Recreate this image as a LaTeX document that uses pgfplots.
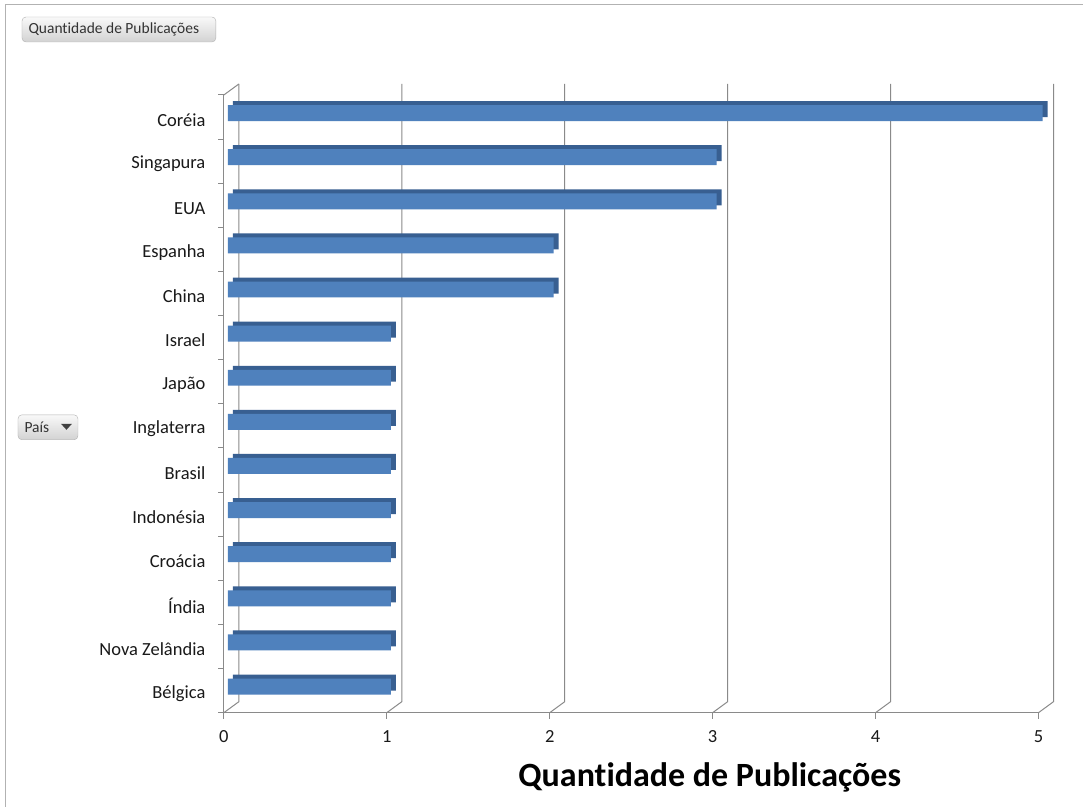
\documentclass[border=0pt]{standalone}
\usepackage{pgfplots}
\pgfplotsset{compat=1.18}
\usepackage{fontspec}
\setmainfont{Carlito}[Ligatures={NoCommon}]
\definecolor{barblue}{HTML}{4F81BD}
\definecolor{bardark}{HTML}{385F91}
\definecolor{gridc}{HTML}{8A8A8A}
\begin{document}
\begin{tikzpicture}[x=1pt,y=1pt]
\path[fill=white] (0,0) rectangle (1083,807);
\draw[color=gray!60, line width=1pt] (6,0) -- (6,802) -- (1083,802);
% buttons
\draw[rounded corners=4pt, draw=gray!60, top color=gray!5, bottom color=gray!35] (22,765) rectangle (216,790);
\node[anchor=west, font=\fontsize{15.5}{17}\selectfont, text=black!80] at (25,777.5) {Quantidade de Publicações};
\draw[rounded corners=4pt, draw=gray!60, top color=gray!5, bottom color=gray!35] (18,367) rectangle (78,392);
\node[anchor=west, font=\fontsize{15.5}{17}\selectfont, text=black!80] at (21,379.5) {País};
\fill[black!75] (61,383) -- (72,383) -- (66.5,377) -- cycle;

\begin{axis}[
  at={(224pt,94pt)}, anchor=south west, scale only axis,
  width=815pt, height=618pt,
  xmin=0, xmax=5, ymin=0.5, ymax=14.5, clip=false,
  axis line style={draw=none}, tick style={draw=none},
  xtick={0,...,5}, ytick={1,...,14},
  yticklabels={Bélgica, Nova Zelândia, Índia, Croácia, Indonésia, Brasil, Inglaterra, Japão, Israel, China, Espanha, EUA, Singapura, Coréia},
  ticklabel style={font=\fontsize{18.5}{20}\selectfont, text=black!90},
  /pgf/number format/assume math mode=true,
  yticklabel style={xshift=-15pt, yshift=-3pt},
  xticklabel style={yshift=-14pt},
]
% back wall grid lines and floor diagonals
\pgfplotsinvokeforeach{0,...,5}{
  \draw[gridc, line width=1pt] (axis cs:#1,0.5) -- ++(15pt,11pt) -- ++(0pt,618pt);
  \draw[gridc, line width=1pt] (axis cs:#1,0.5) -- ++(0pt,-6pt);
}
\draw[gridc, line width=1pt] (axis cs:0,14.5) -- ++(15pt,11pt);
% front axis lines
\draw[gridc, line width=1pt] (axis cs:0,14.5) -- (axis cs:0,0.5) -- (axis cs:5,0.5);
\pgfplotsinvokeforeach{0,...,14}{
  \draw[gridc, line width=1pt] (axis cs:0,#1+0.5) -- ++(-6pt,0pt);
}
% bars: depth then front face
\addplot[xbar, bar width=16pt, fill=bardark, draw=none, xshift=9pt, yshift=8pt] coordinates {
(1,1) (1,2) (1,3) (1,4) (1,5) (1,6) (1,7) (1,8) (1,9) (2,10) (2,11) (3,12) (3,13) (5,14)
};
\addplot[xbar, bar width=16pt, fill=barblue, draw=none, xshift=4pt, yshift=4pt] coordinates {
(1,1) (1,2) (1,3) (1,4) (1,5) (1,6) (1,7) (1,8) (1,9) (2,10) (2,11) (3,12) (3,13) (5,14)
};
\end{axis}
\node[font=\bfseries\fontsize{34}{38}\selectfont] at (710,29) {Quantidade de Publicações};
\end{tikzpicture}
\end{document}
